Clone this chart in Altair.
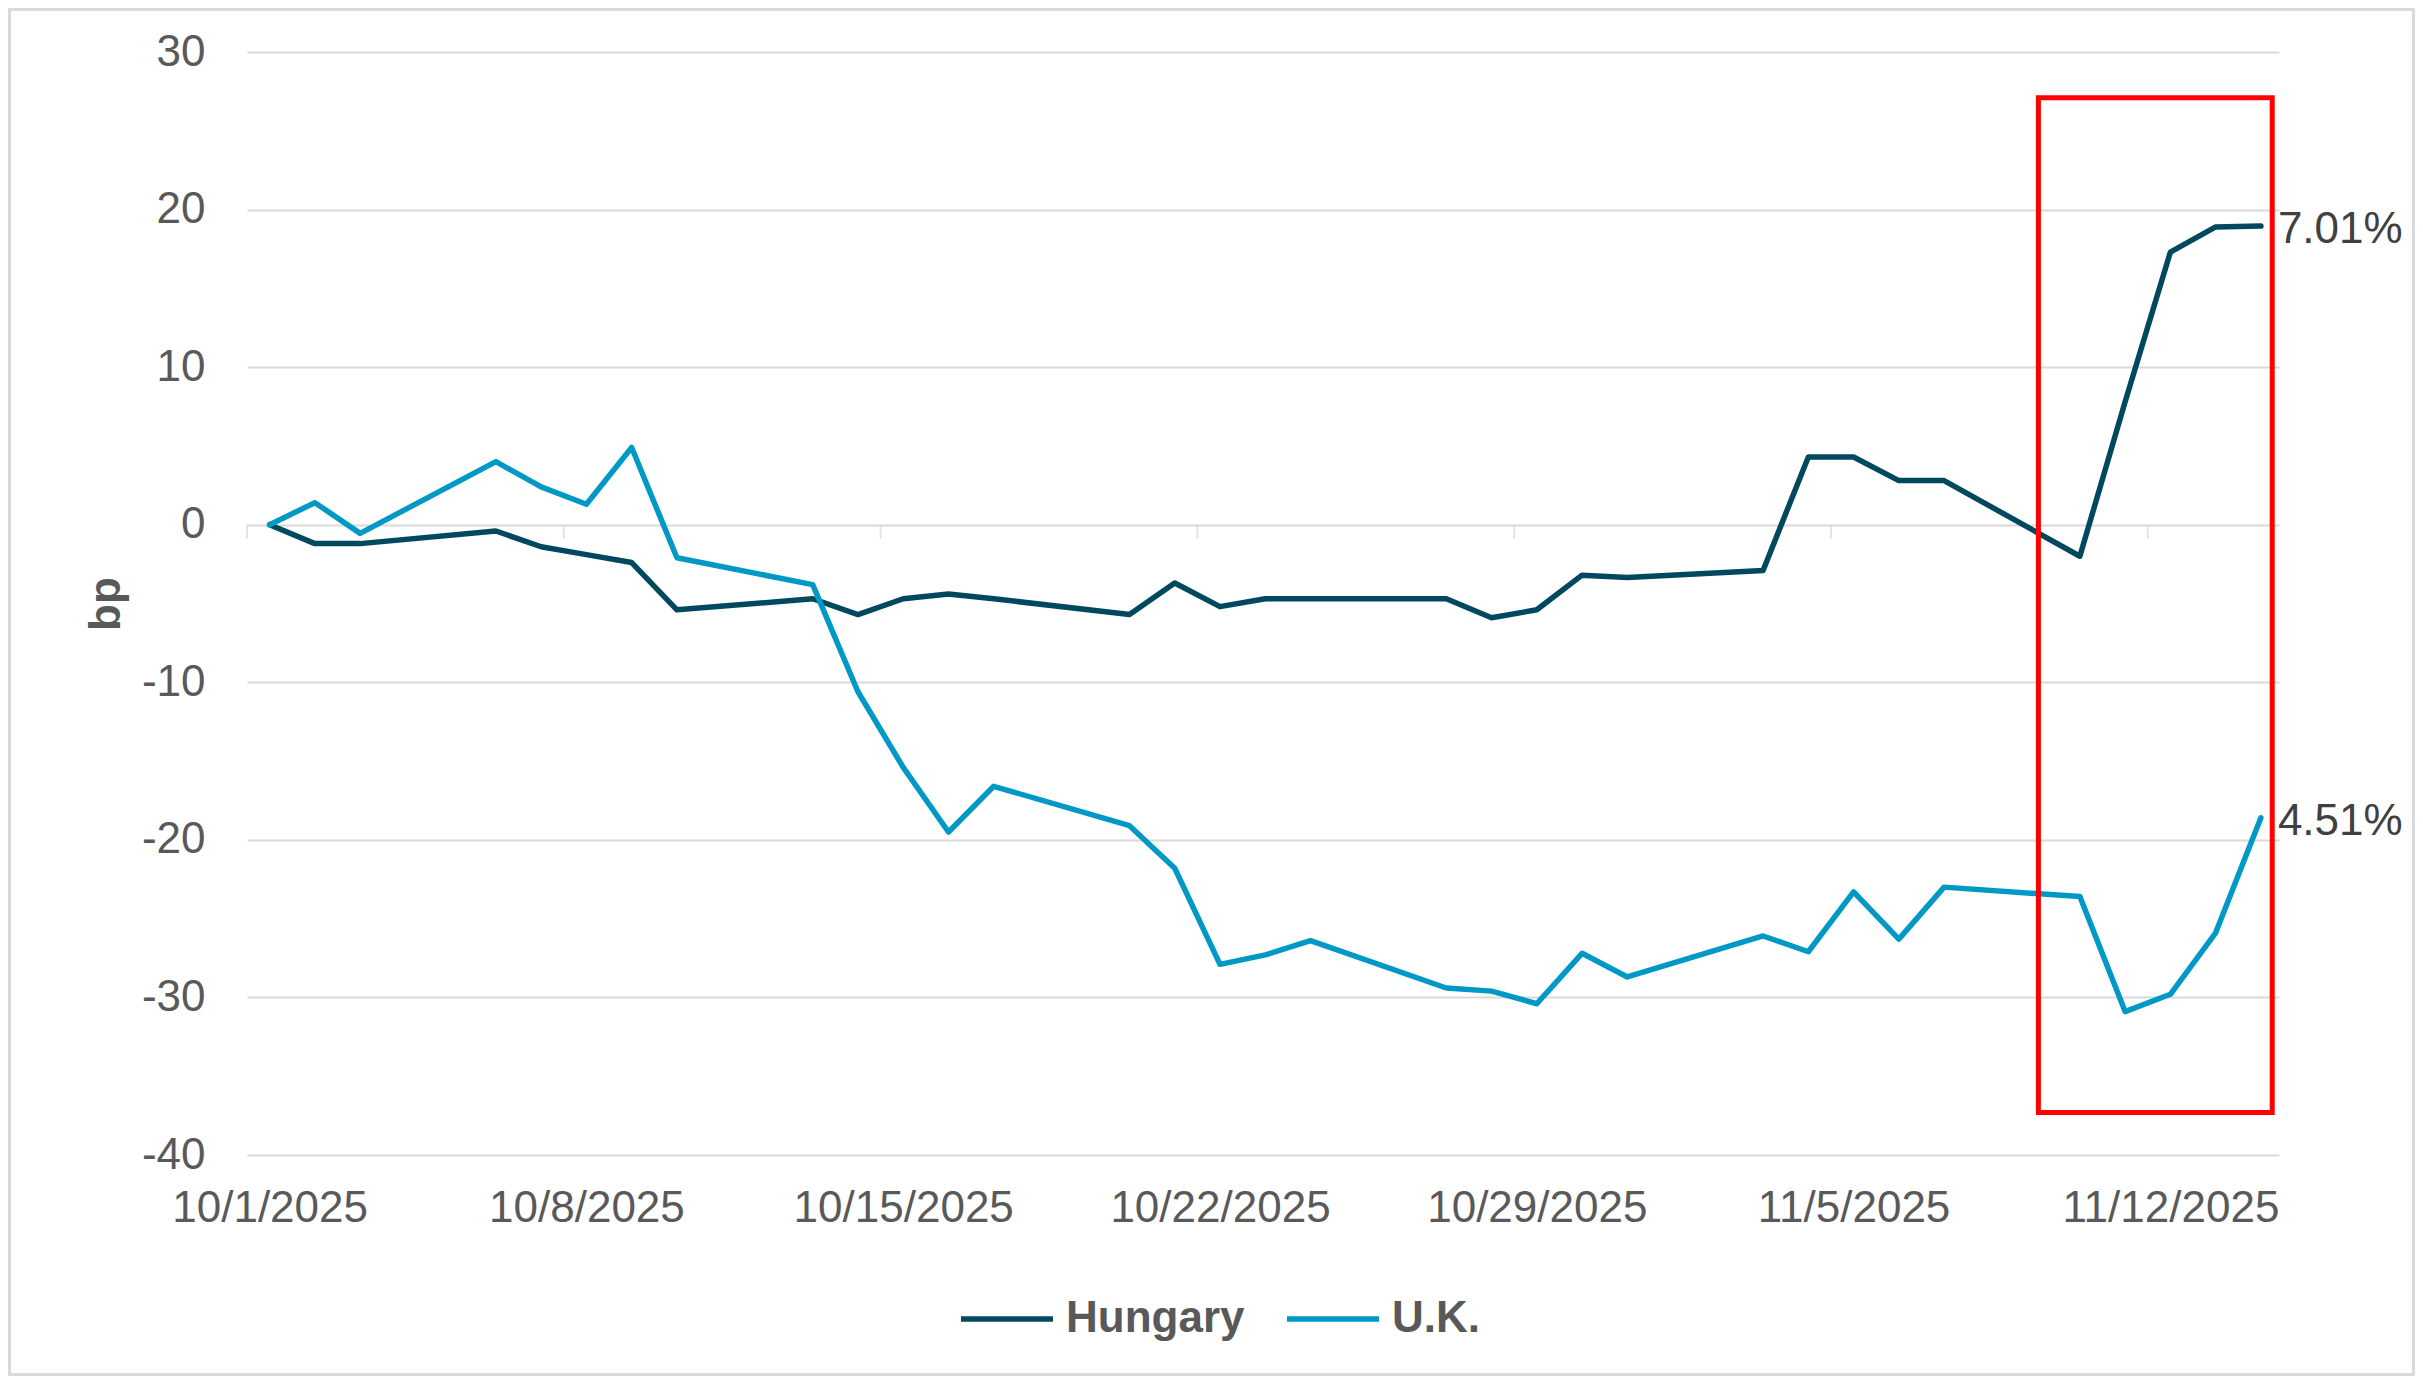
import altair as alt
import pandas as pd

# ---- data ----
dates = [
    "2025-10-01", "2025-10-02", "2025-10-03", "2025-10-06", "2025-10-07", "2025-10-08",
    "2025-10-09", "2025-10-10", "2025-10-13", "2025-10-14", "2025-10-15", "2025-10-16",
    "2025-10-17", "2025-10-20", "2025-10-21", "2025-10-22", "2025-10-23", "2025-10-24",
    "2025-10-27", "2025-10-28", "2025-10-29", "2025-10-30", "2025-10-31", "2025-11-03",
    "2025-11-04", "2025-11-05", "2025-11-06", "2025-11-07", "2025-11-10", "2025-11-11",
    "2025-11-12", "2025-11-13", "2025-11-14",
]
hungary = [
    0.0, -1.2, -1.2, -0.4, -1.4, -1.9,
    -2.4, -5.4, -4.7, -5.7, -4.7, -4.4,
    -4.7, -5.7, -3.7, -5.2, -4.7, -4.7,
    -4.7, -5.9, -5.4, -3.2, -3.35, -2.9,
    4.3, 4.3, 2.8, 2.8, -2.0, 7.8,
    17.3, 18.9, 18.95,
]
uk = [
    0.0, 1.4, -0.55, 4.0, 2.4, 1.3,
    4.9, -2.1, -3.8, -10.6, -15.4, -19.5,
    -16.6, -19.1, -21.8, -27.9, -27.3, -26.4,
    -29.4, -29.6, -30.4, -27.2, -28.7, -26.1,
    -27.1, -23.3, -26.3, -23.0, -23.6, -30.9,
    -29.8, -25.9, -18.6,
]
series_names = ["Hungary", "U.K."]
series_colors = ["#00485E", "#0099C6"]
end_labels = ["7.01%", "4.51%"]
y_ticks = [-40, -30, -20, -10, 0, 10, 20, 30]
x_label_dates = [(10, 1), (10, 8), (10, 15), (10, 22), (10, 29), (11, 5), (11, 12)]
tick_mark_dates = ["2025-09-30T12:00:00", "2025-10-07T12:00:00", "2025-10-14T12:00:00",
                   "2025-10-21T12:00:00", "2025-10-28T12:00:00", "2025-11-04T12:00:00",
                   "2025-11-11T12:00:00"]
box_x = ["2025-11-09T02:00:00", "2025-11-14T06:00:00"]
box_y = [27.1, -37.3]

FONT = "Liberation Sans, Arial, sans-serif"
GRAY = "#595959"
GRID = "#D9D9D9"

W, H = 2032, 1103
PAD = {"left": 239, "top": 44, "right": 136, "bottom": 221}

rows = []
for name, vals in zip(series_names, [hungary, uk]):
    for d, v in zip(dates, vals):
        rows.append({"date": d + "T00:00:00", "series": name, "value": v})
df = pd.DataFrame(rows)

end_df = pd.DataFrame({
    "date": [dates[-1] + "T00:00:00"] * 2,
    "value": [hungary[-1], uk[-1]],
    "label": end_labels,
})
tick_df = pd.DataFrame({"date": tick_mark_dates, "zero": [0] * len(tick_mark_dates)})
box_df = pd.DataFrame({"x": [box_x[0]], "x2": [box_x[1]], "y": [box_y[0]], "y2": [box_y[1]]})
frame_df = pd.DataFrame({"k": [0]})

x_scale = alt.Scale(domain=[alt.DateTime(year=2025, month=9, date=30, hours=12),
                            alt.DateTime(year=2025, month=11, date=14, hours=9, minutes=36)])
y_scale = alt.Scale(domain=[-40, 30], nice=False, zero=False)

x_axis = alt.Axis(
    values=[alt.DateTime(year=2025, month=m, date=d) for m, d in x_label_dates],
    format="%-m/%-d/%Y", title=None, grid=False, ticks=False, domain=False,
    labelFont=FONT, labelFontSize=44, labelColor=GRAY, labelPadding=31,
    labelFlush=False, labelOverlap=False, labelLimit=500,
)
y_axis = alt.Axis(
    values=y_ticks, title="bp", grid=True, gridColor=GRID, gridWidth=2,
    ticks=False, domain=False, labelFont=FONT, labelFontSize=44, labelColor=GRAY,
    labelPadding=42, labelExpr="'' + datum.value",
    titleFont=FONT, titleFontSize=44, titleFontWeight="bold",
    titleColor=GRAY, titleAngle=270, titleAlign="center", titleBaseline="middle",
    titleX=-141, titleY=H / 2,
)

ticks = alt.Chart(tick_df).mark_tick(
    orient="vertical", size=14, thickness=2, color=GRID, yOffset=7
).encode(
    x=alt.X("date:T", scale=x_scale, axis=x_axis),
    y=alt.Y("zero:Q", scale=y_scale, axis=y_axis),
)

lines = alt.Chart(df).mark_line(strokeWidth=5.5, strokeJoin="round", strokeCap="round").encode(
    x=alt.X("date:T", scale=x_scale, axis=x_axis),
    y=alt.Y("value:Q", scale=y_scale, axis=y_axis),
    color=alt.Color(
        "series:N",
        scale=alt.Scale(domain=series_names, range=series_colors),
        sort=series_names,
        legend=alt.Legend(
            orient="none", legendX=711, legendY=1218, direction="horizontal", title=None,
            symbolType="stroke", symbolSize=8464, symbolStrokeWidth=5.5,
            labelFont=FONT, labelFontSize=44, labelFontWeight="bold", labelColor=GRAY,
            labelOffset=10, columnPadding=31, labelLimit=400,
        ),
    ),
    order=alt.Order("date:T"),
)

labels = alt.Chart(end_df).mark_text(
    align="left", baseline="middle", dx=17, dy=4, font=FONT, fontSize=44, color="#404040"
).encode(
    x=alt.X("date:T", scale=x_scale),
    y=alt.Y("value:Q", scale=y_scale),
    text="label:N",
)

box = alt.Chart(box_df).mark_rect(
    filled=False, stroke="#FF0000", strokeWidth=5, fillOpacity=0
).encode(
    x=alt.X("x:T", scale=x_scale), x2="x2:T",
    y=alt.Y("y:Q", scale=y_scale), y2="y2:Q",
)

frame = alt.Chart(frame_df).mark_rect(
    filled=False, stroke=GRID, strokeWidth=3, fillOpacity=0
).encode(
    x=alt.value(-PAD["left"] + 1.5), x2=alt.value(W + PAD["right"] - 1.5),
    y=alt.value(-PAD["top"] + 1.5), y2=alt.value(H + PAD["bottom"] - 1.5),
)

chart = alt.layer(ticks, lines, labels, box, frame).properties(
    width=W, height=H, padding=PAD,
    autosize=alt.AutoSizeParams(type="none"),
    background="white",
).configure_view(stroke=None)

chart.save("out.html", embed_options={"renderer": "svg", "actions": False})
